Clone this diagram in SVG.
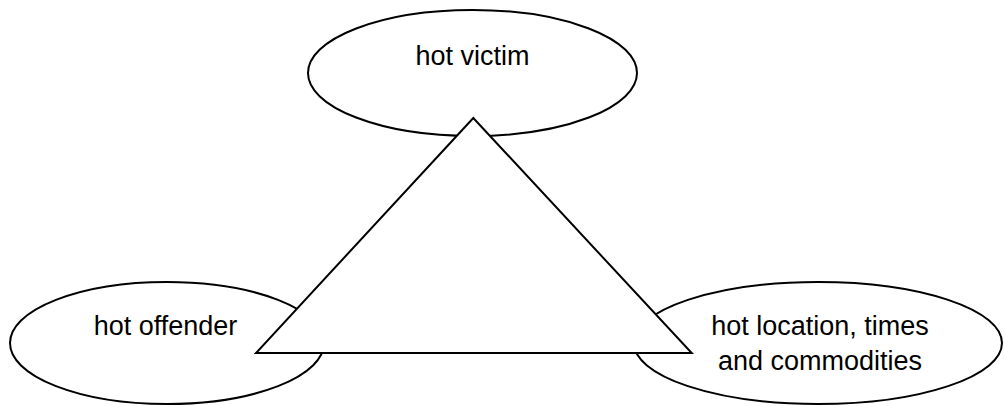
<svg xmlns="http://www.w3.org/2000/svg" width="1005" height="406" viewBox="0 0 1005 406">
<style>
.shape{fill:#ffffff;stroke:#000000;stroke-width:2}
.lbl{font-family:"Liberation Sans",Arial,sans-serif;font-size:27px;fill:#000000;text-anchor:middle}
</style>
<rect width="1005" height="406" fill="#ffffff"/>
<g id="node-victim">
<ellipse class="shape" cx="472.5" cy="73" rx="164.5" ry="63"/>
<text class="lbl" x="472.5" y="65">hot victim</text>
</g>
<g id="node-offender">
<ellipse class="shape" cx="167" cy="343" rx="157" ry="61"/>
<text class="lbl" x="165.5" y="335">hot offender</text>
</g>
<g id="node-location">
<ellipse class="shape" cx="818" cy="343" rx="184" ry="61"/>
<text class="lbl" x="820" y="335">hot location, times</text>
<text class="lbl" x="820" y="370">and commodities</text>
</g>
<g id="connectors">
<polygon class="shape" points="473.3,118 256,353 691.7,353"/>
</g>
</svg>
